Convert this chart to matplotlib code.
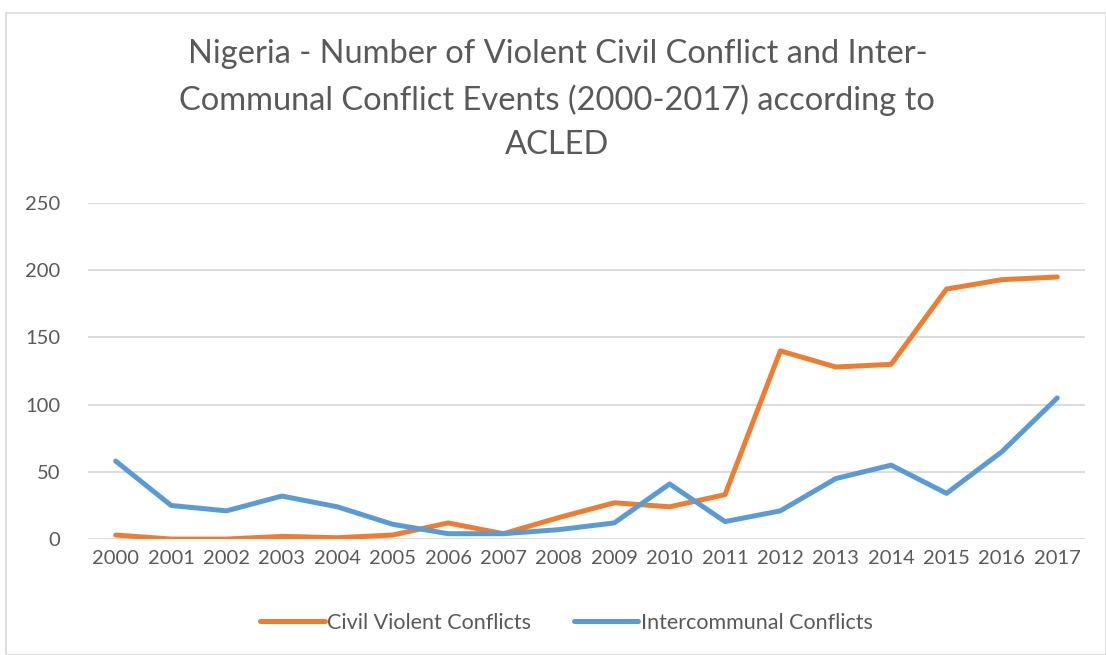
import numpy as np
import matplotlib.pyplot as plt
from matplotlib.patches import Rectangle

# dados (ACLED)
anos = [str(a) for a in range(2000, 2018)]
civil = [3, 0, 0, 2, 1, 3, 12, 4, 16, 27, 24, 33, 140, 128, 130, 186, 193, 195]
intercomunal = [58, 25, 21, 32, 24, 11, 4, 4, 7, 12, 41, 13, 21, 45, 55, 34, 65, 105]
y_ticks = [0, 50, 100, 150, 200, 250]

titulo = ('Nigeria - Number of Violent Civil Conflict and Inter-\n'
          'Communal Conflict Events (2000-2017) according to\nACLED')

plt.rcParams['font.family'] = ['Lato', 'DejaVu Sans']
cinza = '#595959'

fig = plt.figure(figsize=(11.06, 6.55), dpi=100)
ax = fig.add_axes([0.0796, 0.177, 0.9014, 0.513])

x = np.arange(len(anos))
ax.plot(x, civil, color='#ED7D31', lw=3.6, solid_capstyle='round',
        solid_joinstyle='round', label='Civil Violent Conflicts')
ax.plot(x, intercomunal, color='#5B9BD5', lw=3.6, solid_capstyle='round',
        solid_joinstyle='round', label='Intercommunal Conflicts')

ax.set_xlim(-0.5, len(anos) - 0.5)
ax.set_ylim(0, 250)
ax.set_xticks(x)
ax.set_xticklabels(anos)
ax.set_yticks(y_ticks)
ax.tick_params(length=0, labelsize=14.5, labelcolor=cinza, pad=8)
ax.tick_params(axis='y', pad=20)
ax.grid(axis='y', color='#D9D9D9', lw=1.3)
ax.set_axisbelow(True)
for s in ax.spines.values():
    s.set_visible(False)

fig.text(0.504, 0.94, titulo, ha='center', va='top', fontsize=23.5,
         color=cinza, linespacing=1.58)

fig.legend(loc='center', bbox_to_anchor=(0.512, 0.049), ncol=2, frameon=False,
           fontsize=15.5, labelcolor=cinza, handlelength=3.0, handletextpad=0.1,
           columnspacing=2.0)

# moldura da figura
fig.patches.append(Rectangle((0.005, 0.0), 0.995, 0.98, transform=fig.transFigure,
                             fill=False, edgecolor='#D9D9D9', lw=1.2))

plt.savefig('out.png', dpi=100)
